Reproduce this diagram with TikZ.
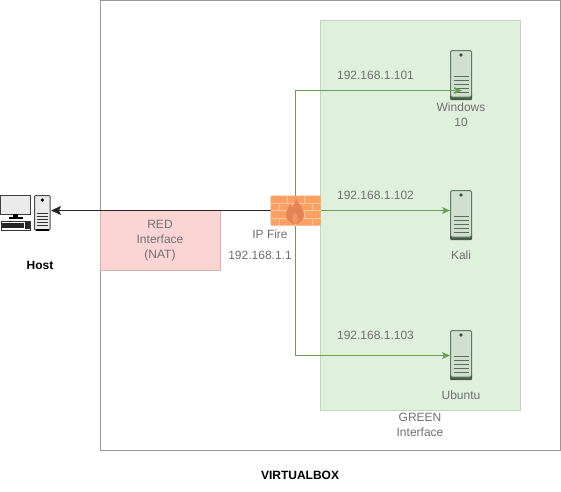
\documentclass[tikz,border=0pt]{standalone}
\usepackage{fontspec}
\setmainfont{Liberation Sans}
\usetikzlibrary{arrows.meta}
\definecolor{gline}{HTML}{6A9F58}
\definecolor{gfill}{HTML}{DFF0DC}
\definecolor{rfill}{HTML}{FBD5D3}
\definecolor{brick}{HTML}{FB9F62}
\definecolor{mortar}{HTML}{FFC79C}
\definecolor{flame}{HTML}{E28457}
\definecolor{lbl}{HTML}{707070}
\definecolor{srv}{HTML}{5F7A62}
\tikzset{
  x=1pt,y=-1pt,
  lbl/.style={font=\fontsize{12}{15}\selectfont,text=lbl,align=center,inner sep=0pt},
  bold/.style={font=\fontsize{12}{15}\selectfont\bfseries,text=black,inner sep=0pt},
  glink/.style={draw=gline,-{Stealth[length=8pt,width=7pt,inset=2pt]},line width=.8pt},
  klink/.style={draw=black!85,-{Stealth[length=10pt,width=9pt,inset=2pt]},line width=1pt},
  boxhit/.style={minimum width=22pt,minimum height=50pt,inner sep=0pt,outer sep=0pt},
  area/.style={inner sep=0pt,outer sep=0pt,anchor=north west},
}
\newcommand{\srvicon}[3]{% name, x, top
  \node[boxhit] (#1) at (#2+11,#3+25) {};
  \begin{scope}[shift={(#2,#3)}]
    \fill[srv!75!black,rounded corners=1pt] (0,44) rectangle (22,50);
    \draw[srv,fill=gfill!85!gray,line width=1pt,rounded corners=1.5pt] (.5,.5) rectangle (21.5,47);
    \fill[srv!70!black] (11,5) circle (1.8);
    \foreach \yy in {26,30,34,38,42}{\draw[srv!90!black,line width=.8pt] (3.5,\yy) -- (18.5,\yy);}
  \end{scope}}
\begin{document}
\begin{tikzpicture}
\useasboundingbox (0,0) rectangle (561,491);
\fill[white] (0,0) rectangle (561,491);
\node[area,draw=gray!80,line width=.8pt,minimum width=460pt,minimum height=450pt] (vbox) at (100.5,0.5) {};
\node[area,fill=rfill,draw=rfill!85!black,line width=.5pt,minimum width=120pt,minimum height=60pt] (red) at (100.5,210.5) {};
\node[area,fill=gfill,draw=gfill!88!black,line width=.5pt,minimum width=200pt,minimum height=390pt] (green) at (320.5,20.5) {};
% servers
\srvicon{win}{450}{50}
\srvicon{kali}{450}{190}
\srvicon{ubu}{450}{330}
% firewall
\node[minimum width=50pt,minimum height=30pt,inner sep=0pt,outer sep=0pt] (fw) at (295.5,210.5) {};
\coordinate (winend) at (462,90.5);
\coordinate (kaliend) at (450,210.5);
\coordinate (ubuend) at (450,355.5);
\coordinate (hostend) at (51,210.5);
\draw[glink] (fw.north) |- (winend);
\draw[glink] (fw.east) -- (kaliend);
\draw[glink] (fw.south) |- (ubuend);
\draw[klink] (fw.west) -- (hostend);
\fill[brick,rounded corners=1pt] (270.5,195.5) rectangle (320.5,225.5);
\begin{scope}[mortar,line width=.7pt]
  \foreach \yy in {203,210.5,218}{\draw (270.5,\yy) -- (320.5,\yy);}
  \foreach \xx in {287,304}{\draw (\xx,195.5) -- (\xx,203); \draw (\xx,210.5) -- (\xx,218);}
  \foreach \xx in {279,295.5,312}{\draw (\xx,203) -- (\xx,210.5); \draw (\xx,218) -- (\xx,225.5);}
\end{scope}
\fill[flame] (296,198) .. controls (298,204) and (304,208) .. (304,215) .. controls (304,221) and (299,224) .. (295,224) .. controls (290,224) and (286,220) .. (286,215) .. controls (286,210) and (289,208) .. (290,204) .. controls (291,206) and (292,207) .. (293,208) .. controls (294,205) and (295,201) .. (296,198);
\fill[brick!70!flame] (295,224) .. controls (292,222) and (291,218) .. (295,212) .. controls (299,218) and (298,222) .. (295,224);
% host
\node[minimum width=50pt,minimum height=36pt,inner sep=0pt] (hostpc) at (25,213) {};
\begin{scope}
  \draw[black!75,fill=black!8,line width=1pt] (.5,195.5) rectangle (30.5,214);
  \fill[black] (13,214) rectangle (18,217);
  \fill[black] (9,217) rectangle (23,218.5);
  \draw[black!80,fill=white,line width=1pt] (1.5,221.5) rectangle (30.5,230);
  \fill[black!85] (2,223) rectangle (24,228);
  \fill[black!85] (25,222) rectangle (30,229);
  \draw[black!70,fill=black!8,line width=1pt,rounded corners=1pt] (34.5,195.5) rectangle (50,230);
  \fill[black] (42.3,200) circle (1.8);
  \foreach \yy in {213.5,216.5,219.5,222.5,225.5}{\draw[black!80,line width=.8pt] (37,\yy) -- (47.5,\yy);}
  \fill[black] (35.5,229) rectangle (49,231);
\end{scope}
% labels
\node[bold] (hosttxt) at (40,265) {Host};
\node[bold] (vtxt) at (300,475) {VIRTUALBOX};
\node[lbl] (redtxt) at (160,241) {RED\\Interface\\(NAT)};
\node[lbl] (fwtxt) at (270,234) {IP Fire};
\node[lbl] (fwip) at (260,255) {192.168.1.1};
\node[lbl] (ip1) at (375.5,75) {192.168.1.101};
\node[lbl] (ip2) at (375.5,195) {192.168.1.102};
\node[lbl] (ip3) at (375.5,335) {192.168.1.103};
\node[lbl] (wintxt) at (461,115) {Windows\\10};
\node[lbl] (kalitxt) at (461,255) {Kali};
\node[lbl] (ubutxt) at (461,395) {Ubuntu};
\node[lbl] (greentxt) at (420,425) {GREEN\\Interface};
\end{tikzpicture}
\end{document}
